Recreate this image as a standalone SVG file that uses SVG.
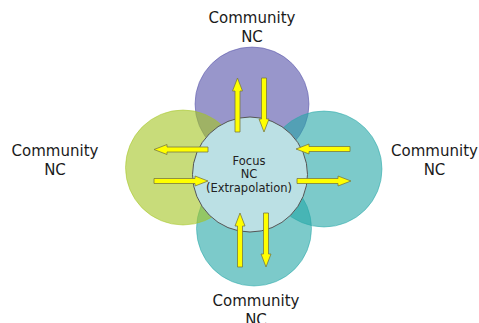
<svg xmlns="http://www.w3.org/2000/svg" xmlns:xlink="http://www.w3.org/1999/xlink" width="479" height="323" viewBox="0 0 479 323">
  <style>
    .label { font-family: "DejaVu Sans", Verdana, sans-serif; font-size: 15px; fill: #1a1a1a; text-anchor: middle; }
    .focus-text { font-family: "DejaVu Sans", Verdana, sans-serif; font-size: 11.5px; fill: #222; text-anchor: middle; }
    .ring { fill-opacity: 0.6; stroke-opacity: 0.5; stroke-width: 1; }
    .purple { fill: #5350a8; stroke: #5350a8; }
    .green { fill: #a3c521; stroke: #a3c521; }
    .teal { fill: #25a7a7; stroke: #25a7a7; }
    .focus { fill: #bbe0e4; stroke: #555; stroke-width: 1; }
    .arrow { fill: #ffff00; stroke: #7a7a40; stroke-width: 0.8; stroke-linejoin: miter; }
  </style>
  <defs>
    <!-- one 54px arrow pointing along +x from the origin -->
    <path id="arr" d="M0,-2.5 H41 V-5 L54,0 L41,5 V2.5 H0 Z"/>
  </defs>
  <rect width="479" height="323" fill="#ffffff"/>

  <g id="community-top">
    <circle class="ring purple" cx="252" cy="104" r="57"/>
    <text class="label" x="252" y="23">Community</text>
    <text class="label" x="252" y="42">NC</text>
  </g>
  <g id="community-bottom">
    <circle class="ring teal" cx="254" cy="228.5" r="57.5"/>
    <text class="label" x="256" y="306">Community</text>
    <text class="label" x="256" y="325">NC</text>
  </g>
  <g id="community-right">
    <circle class="ring teal" cx="324" cy="169" r="58"/>
    <text class="label" x="434.5" y="156">Community</text>
    <text class="label" x="434.5" y="175">NC</text>
  </g>
  <g id="community-left">
    <circle class="ring green" cx="183" cy="167.5" r="57.5"/>
    <text class="label" x="55" y="156">Community</text>
    <text class="label" x="55" y="175">NC</text>
  </g>
  <g id="focus">
    <circle class="focus" cx="250" cy="174.5" r="57.5"/>
    <text class="focus-text" x="249" y="164.5">Focus</text>
    <text class="focus-text" x="249" y="178">NC</text>
    <text class="focus-text" x="249" y="191.5">(Extrapolation)</text>
  </g>

  <g id="connectors" class="arrow">
    <use xlink:href="#arr" transform="translate(237.5,132) rotate(-90)"/>
    <use xlink:href="#arr" transform="translate(264,78) rotate(90)"/>
    <use xlink:href="#arr" transform="translate(208,149.5) rotate(180)"/>
    <use xlink:href="#arr" transform="translate(154,181)"/>
    <use xlink:href="#arr" transform="translate(350,149) rotate(180)"/>
    <use xlink:href="#arr" transform="translate(297,181)"/>
    <use xlink:href="#arr" transform="translate(240,267) rotate(-90)"/>
    <use xlink:href="#arr" transform="translate(266,213) rotate(90)"/>
  </g>
</svg>
